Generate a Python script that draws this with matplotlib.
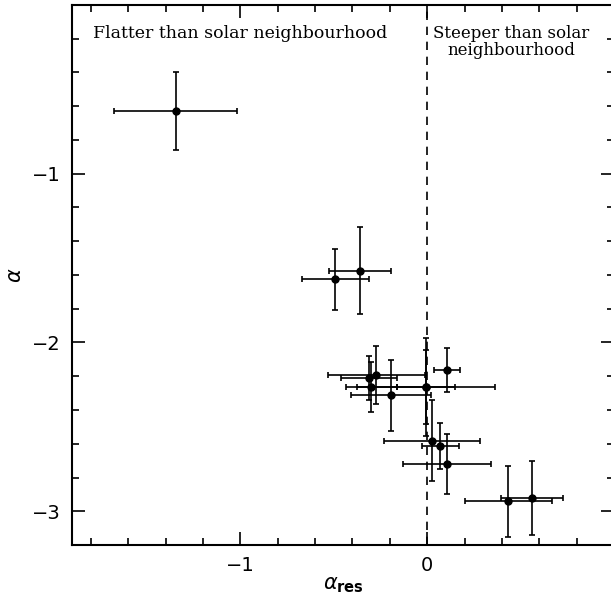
import numpy as np
import matplotlib.pyplot as plt
from matplotlib.ticker import MultipleLocator

# residual slope vs fitted slope, with 1-sigma errors
alpha_res = [-1.345, -0.492, -0.358, -0.310, -0.273, -0.299, -0.194,
             -0.005, -0.005, 0.107, 0.025, 0.070, 0.105, 0.435, 0.560]
alpha_res_err = [0.33, 0.18, 0.165, 0.15, 0.26, 0.136, 0.214,
                 0.156, 0.37, 0.071, 0.256, 0.098, 0.237, 0.232, 0.166]
alpha = [-0.628, -1.625, -1.574, -2.211, -2.192, -2.264, -2.312,
         -2.264, -2.264, -2.162, -2.581, -2.611, -2.721, -2.941, -2.921]
alpha_err = [0.23, 0.18, 0.26, 0.128, 0.17, 0.147, 0.21,
             0.29, 0.22, 0.13, 0.24, 0.137, 0.178, 0.21, 0.22]

fig = plt.figure(figsize=(6.11, 5.99), dpi=100)
ax = fig.add_axes([0.118, 0.090, 0.887, 0.902])

ax.errorbar(alpha_res, alpha, xerr=alpha_res_err, yerr=alpha_err,
            fmt="o", color="black", ms=5, elinewidth=1.2, capsize=2.5,
            capthick=1.2)
ax.axvline(0, color="black", ls=(0, (5, 4)), lw=1.2)

ax.set_xlim(-1.9, 1.0)
ax.set_ylim(-3.2, 0.0)
ax.xaxis.set_major_locator(MultipleLocator(1))
ax.xaxis.set_minor_locator(MultipleLocator(0.2))
ax.yaxis.set_major_locator(MultipleLocator(1))
ax.yaxis.set_minor_locator(MultipleLocator(0.2))
ax.tick_params(which="both", direction="in", top=True, right=True,
               width=1.2, labelsize=14)
ax.tick_params(which="major", length=9.5, pad=8)
ax.tick_params(which="minor", length=5)
for s in ax.spines.values():
    s.set_linewidth(1.5)

ax.set_xticks([-1, 0])
ax.set_xticklabels(["\u22121", "0"])
ax.set_yticks([-1, -2, -3])
ax.set_yticklabels(["\u22121", "\u22122", "\u22123"])

ax.set_xlabel(r"$\alpha_{\mathbf{res}}$", fontsize=15, labelpad=0)
ax.set_ylabel(r"$\alpha$", fontsize=15, labelpad=5)

ax.text(-1.79, -0.17, "Flatter than solar neighbourhood",
        family="DejaVu Serif", fontsize=12.5, va="center", ha="left")
ax.text(0.03, -0.22, "Steeper than solar\nneighbourhood",
        family="DejaVu Serif", fontsize=12, va="center", ha="left",
        multialignment="center", linespacing=1.05)

fig.savefig("out.png", dpi=100)
